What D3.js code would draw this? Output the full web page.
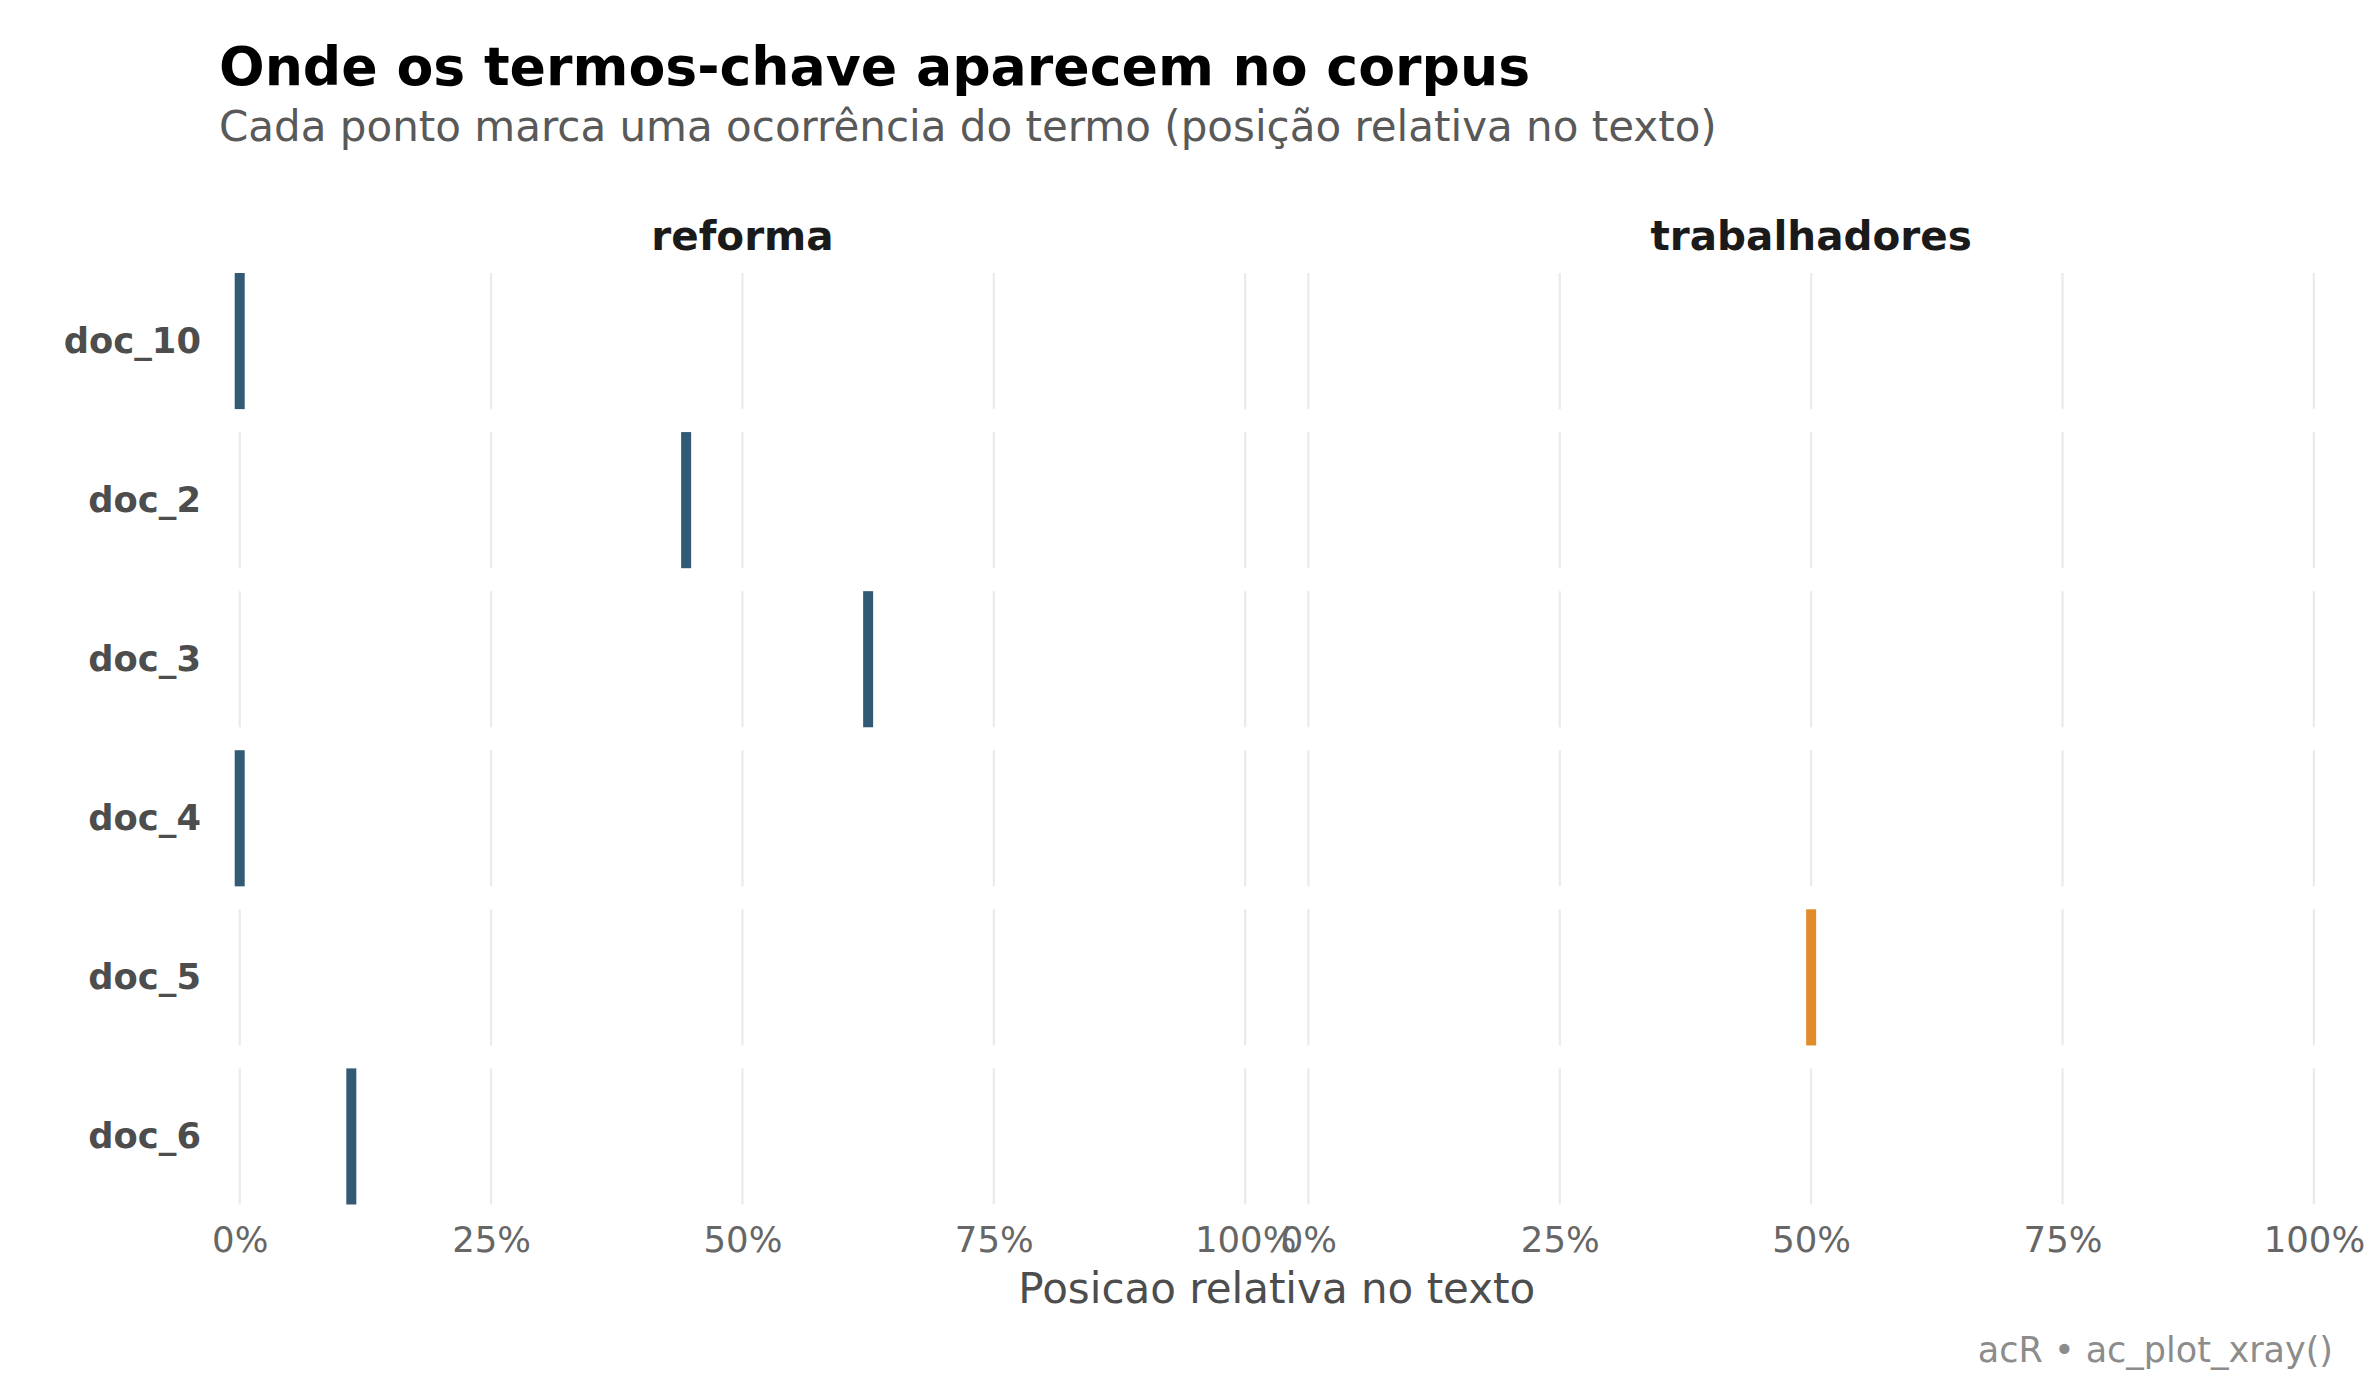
<!DOCTYPE html>
<html>
<head>
<meta charset="utf-8">
<script src="https://cdn.jsdelivr.net/npm/d3@7"></script>
<style>
	body { margin: 0; background: #fff; }
	svg { font-family: "DejaVu Sans", sans-serif; }
</style>
</head>
<body>
<div id="xray-chart"></div>
<script>
// rows (documents) top to bottom, facet columns (terms)
var docs = ["doc_10", "doc_2", "doc_3", "doc_4", "doc_5", "doc_6"];
var terms = ["reforma", "trabalhadores"];
var termColors = ["#335a74", "#e28b2c"];
var xTicks = [0, 0.25, 0.5, 0.75, 1];

// one entry per occurrence: doc, term, relative position in the text
var hitDocs  = ["doc_10", "doc_2", "doc_3", "doc_4", "doc_5", "doc_6"];
var hitTerms = ["reforma", "reforma", "reforma", "reforma", "trabalhadores", "reforma"];
var hitPos   = [0.0, 0.444, 0.625, 0.0, 0.5, 0.111];

var titleText = "Onde os termos-chave aparecem no corpus";
var subtitleText = "Cada ponto marca uma ocorrência do termo (posição relativa no texto)";
var xTitle = "Posicao relativa no texto";
var captionText = "acR • ac_plot_xray()";

var width = 2380, height = 1400;
var panelTop = 273, panelBottom = 1204.5;
var panelLeft = 219.6, panelRight = 2334;
var gap = 23;

var svg = d3.select("#xray-chart")
	.append("svg")
	.attr("width", width)
	.attr("height", height);

var hits = hitDocs.map(function(d, i){
	return {doc: d, term: hitTerms[i], pos: hitPos[i]};
});

var rowScale = d3.scaleBand()
	.domain(docs)
	.range([panelTop, panelBottom])
	.paddingInner(gap / 159.3);

var colScale = d3.scaleBand()
	.domain(terms)
	.range([panelLeft, panelRight])
	.paddingInner(gap / (1045.7 + gap));

var color = d3.scaleOrdinal().domain(terms).range(termColors);

// titles
svg.append("text")
	.attr("x", 219).attr("y", 85)
	.attr("font-size", 53.7).attr("font-weight", "bold")
	.attr("fill", "#000")
	.text(titleText);
svg.append("text")
	.attr("x", 219).attr("y", 141)
	.attr("font-size", 42).attr("fill", "#595959")
	.text(subtitleText);

terms.forEach(function(term){
	var x0 = colScale(term);
	var x = d3.scaleLinear()
		.domain([-0.02, 1.02])
		.range([x0, x0 + colScale.bandwidth()]);

	// strip label
	svg.append("text")
		.attr("x", x0 + colScale.bandwidth() / 2)
		.attr("y", 250)
		.attr("text-anchor", "middle")
		.attr("font-size", 40.5).attr("font-weight", "bold")
		.attr("fill", "#1a1a1a")
		.text(term);

	docs.forEach(function(doc){
		var y0 = rowScale(doc), y1 = y0 + rowScale.bandwidth();
		var panel = svg.append("g").attr("class", "panel");
		panel.selectAll("line.grid")
			.data(xTicks)
			.enter().append("line")
			.attr("class", "grid")
			.attr("x1", function(d){ return x(d); })
			.attr("x2", function(d){ return x(d); })
			.attr("y1", y0).attr("y2", y1)
			.attr("stroke", "#ebebeb")
			.attr("stroke-width", 2.3);

		panel.selectAll("rect.hit")
			.data(hits.filter(function(h){ return h.doc == doc && h.term == term; }))
			.enter().append("rect")
			.attr("class", "hit")
			.attr("x", function(d){ return x(d.pos) - 5; })
			.attr("y", y0)
			.attr("width", 10)
			.attr("height", y1 - y0)
			.attr("fill", color(term));
	});

	// bottom axis
	var axis = svg.append("g")
		.attr("transform", "translate(0," + panelBottom + ")")
		.call(d3.axisBottom(x)
			.tickValues(xTicks)
			.tickFormat(d3.format(".0%"))
			.tickSize(0)
			.tickPadding(22));
	axis.select(".domain").remove();
	axis.selectAll("text")
		.attr("font-family", "DejaVu Sans")
		.attr("font-size", 35.5)
		.attr("fill", "#666666");
});

// row labels
svg.selectAll("text.rowlabel")
	.data(docs)
	.enter().append("text")
	.attr("class", "rowlabel")
	.attr("x", 201)
	.attr("y", function(d){ return rowScale(d) + rowScale.bandwidth() / 2 + 12; })
	.attr("text-anchor", "end")
	.attr("font-size", 35.3).attr("font-weight", "bold")
	.attr("fill", "#4d4d4d")
	.text(function(d){ return d; });

svg.append("text")
	.attr("x", (panelLeft + panelRight) / 2).attr("y", 1303)
	.attr("text-anchor", "middle")
	.attr("font-size", 42).attr("fill", "#4d4d4d")
	.text(xTitle);

svg.append("text")
	.attr("x", 2333).attr("y", 1361.5)
	.attr("text-anchor", "end")
	.attr("font-size", 35).attr("fill", "#8c8c8c")
	.text(captionText);
</script>
</body>
</html>
